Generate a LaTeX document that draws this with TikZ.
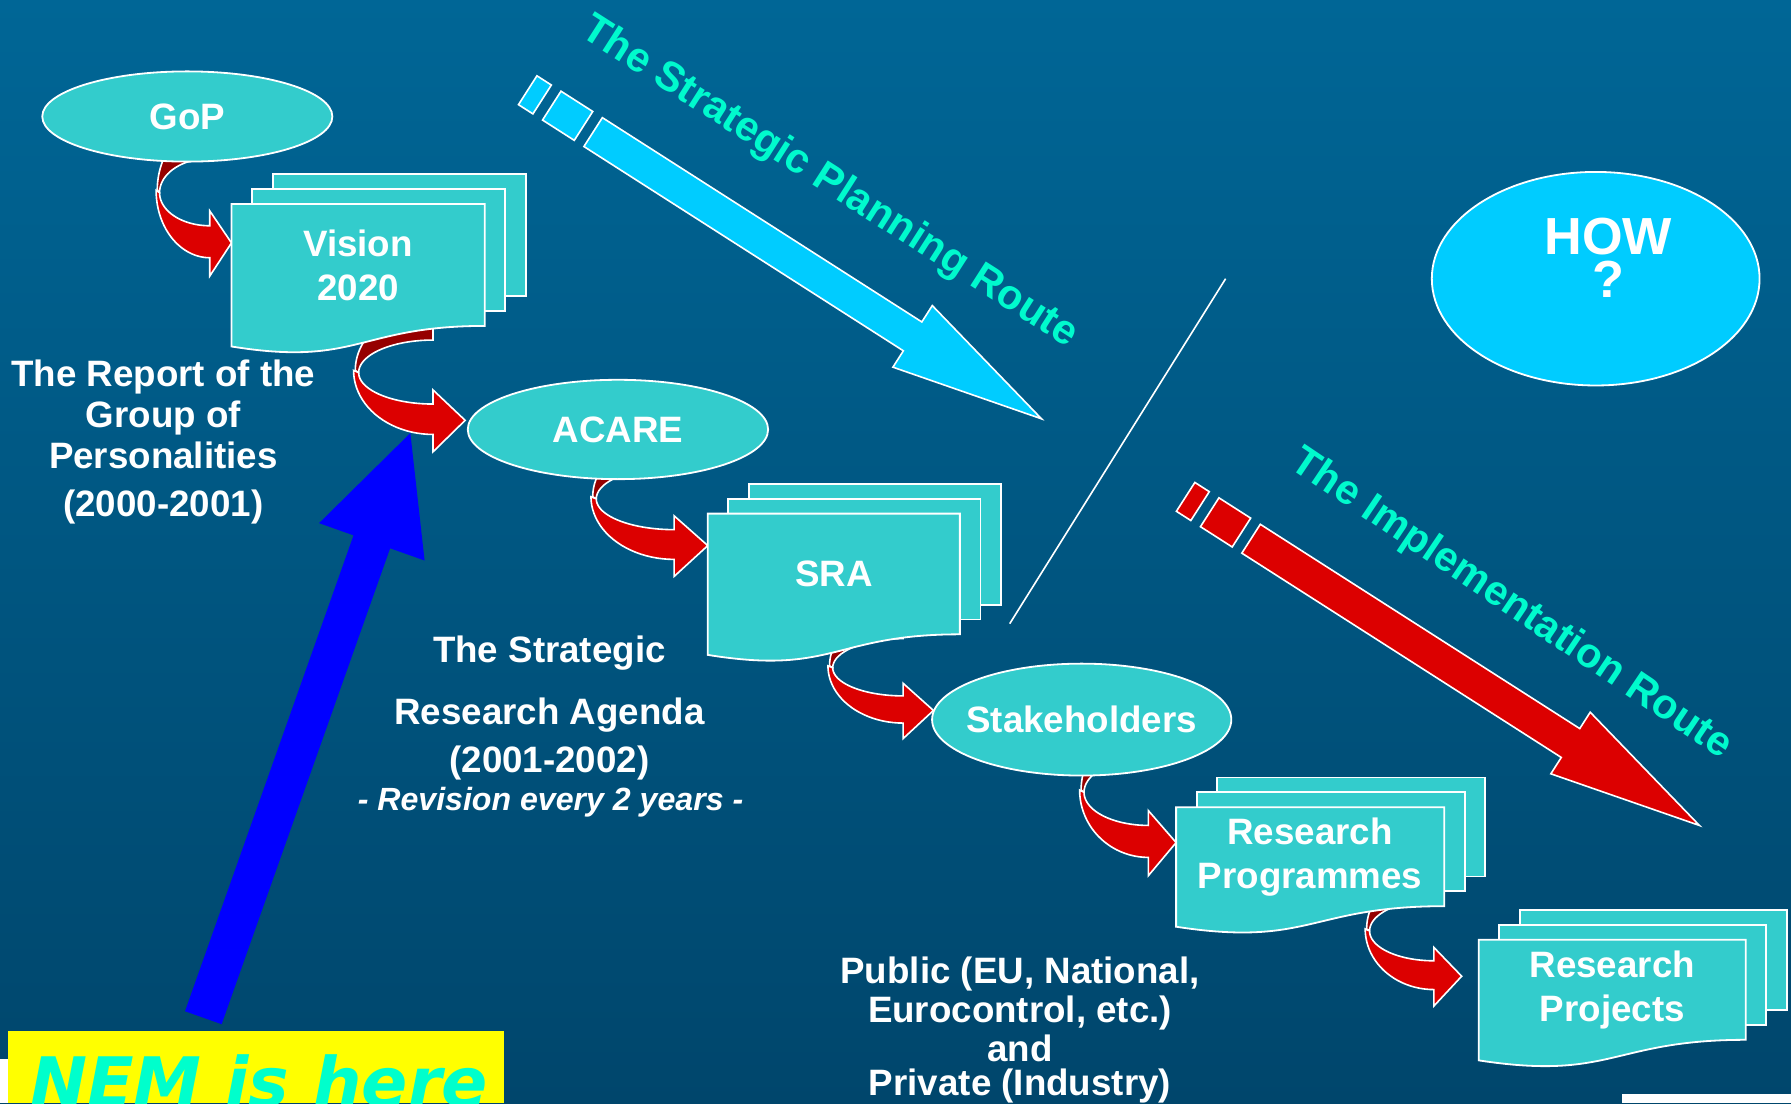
\documentclass[tikz,border=0pt]{standalone}
\usepackage{fontspec}
\setmainfont{Liberation Sans}
\newfontfamily\nemfont{DejaVu Sans}
\usetikzlibrary{shapes.geometric}

\definecolor{bgtop}{RGB}{0,102,150}
\definecolor{bgbottom}{RGB}{0,70,108}
\definecolor{docteal}{RGB}{51,204,204}
\definecolor{sky}{RGB}{0,204,255}
\definecolor{bendred}{RGB}{220,0,0}
\definecolor{bendshade}{RGB}{150,0,0}
\definecolor{routegreen}{RGB}{0,250,205}
\definecolor{nemgreen}{RGB}{0,255,204}
\definecolor{nemyellow}{RGB}{255,255,0}

\pgfdeclarelayer{bg}
\pgfdeclarelayer{arrows}
\pgfdeclarelayer{pages}
\pgfsetlayers{bg,arrows,pages,main}

\begin{document}
\begin{tikzpicture}[x=0.02cm, y=-0.02cm]
        \tikzset{
          oval/.style={ellipse, fill=docteal, draw=white, line width=0.9pt, inner sep=0pt},
          ovaltext/.style={text=white, font=\fontsize{18.3}{22}\selectfont\bfseries},
          doc/.style={rectangle, inner sep=0pt, text=white, align=center,
            font=\fontsize{18.3}{22}\selectfont\bfseries},
          page/.style={fill=docteal, draw=white, line width=0.9pt},
          caption/.style={text=white, align=center},
          route/.style={text=routegreen, font=\fontsize{20.7}{24}\selectfont\bfseries},
          bendfront/.style={fill=bendred, draw=white, line width=0.8pt},
          bendback/.style={fill=bendshade, draw=white, line width=0.8pt},
          block/.style={draw=white, line width=0.8pt},
          pics/bend/.style 2 args={code={
            \begin{scope}[xscale=#1, yscale=#2]
              \filldraw[bendback] (-19,-86) -- ({-19+46*cos(150)},-86)
                -- plot[domain=150:180, samples=12] ({-19+46*cos(\x)},{-46-58*sin(\x)})
                -- plot[domain=180:90, samples=20] ({-19+44*cos(\x)},{-44-30*sin(\x)}) -- cycle;
              \filldraw[bendfront] plot[domain=180:270, samples=24] ({-19+47*cos(\x)},{-46-59*sin(\x)})
                -- (-19,29) -- (0,0) -- (-19,-28) -- (-19,-15)
                -- plot[domain=270:180, samples=24] ({-19+44*cos(\x)},{-44-29*sin(\x)}) -- cycle;
            \end{scope}
          }},
          pics/pages/.style={code={
            \begin{pgfonlayer}{pages}
              \filldraw[page] ([shift={(36,-26)}]#1.north west) rectangle ([shift={(36,-26)}]#1.south east);
              \filldraw[page] ([shift={(18,-13)}]#1.north west) rectangle ([shift={(18,-13)}]#1.south east);
              \filldraw[page] (#1.north west) -- (#1.north east) -- (#1.south east)
                .. controls (#1.south) and ([shift={(0,36)}]#1.south) .. ([shift={(0,18)}]#1.south west) -- cycle;
            \end{pgfonlayer}
          }},
        }
        \begin{pgfonlayer}{bg}
          \fill[top color=bgtop, bottom color=bgbottom] (0,0) rectangle (1568,966);
        \end{pgfonlayer}
        \useasboundingbox (0,0) rectangle (1568,966);

        % the two routes
        \begin{pgfonlayer}{arrows}
          \begin{scope}[shift={(462,79)}, rotate=-32.6]
            \filldraw[block, fill=sky] (0,-15) rectangle (15,15);
            \filldraw[block, fill=sky] (25,-15) rectangle (58,15);
            \filldraw[block, fill=sky] (68,-15) -- (400,-15) -- (400,-32) -- (534,0)
              -- (400,32) -- (400,15) -- (68,15) -- cycle;
          \end{scope}
          \begin{scope}[shift={(1038,435)}, rotate=-32.6]
            \filldraw[block, fill=bendred] (0,-15) rectangle (15,15);
            \filldraw[block, fill=bendred] (25,-15) rectangle (58,15);
            \filldraw[block, fill=bendred] (68,-15) -- (400,-15) -- (400,-32) -- (534,0)
              -- (400,32) -- (400,15) -- (68,15) -- cycle;
          \end{scope}
          \begin{scope}[shift={(178,891)}, rotate=70.5]
            \fill[blue] (0,-17) -- (442,-17) -- (442,-49) -- (543,0)
              -- (442,49) -- (442,17) -- (0,17) -- cycle;
          \end{scope}
        \end{pgfonlayer}
        \node[route, rotate=-32.6] (stratroute) at (726,160) {The Strategic Planning Route};
        \node[route, rotate=-34] (implroute) at (1323,529) {The Implementation Route};
        \draw[white, line width=0.8pt] (1073,244) -- (884,546);

        \node[oval, fill=sky, minimum width=5.74cm, minimum height=3.74cm] (how) at (1397,244) {};
        \node[text=white, align=center, font=\fontsize{26}{21.5}\selectfont\bfseries] (howtext)
          at (1408,226) {HOW\\?};

        % the chain
        \node[oval, minimum width=5.08cm, minimum height=1.58cm, label={[ovaltext]center:GoP}] (gop) at (164,102) {};
        \node[doc, minimum width=4.42cm, minimum height=2.12cm] (vision) at (313.5,232) {Vision\\2020};
        \node[oval, minimum width=5.26cm, minimum height=1.74cm, label={[ovaltext]center:ACARE}] (acare) at (541,376) {};
        \node[doc, minimum width=4.40cm, minimum height=2.10cm] (sra) at (730,502.5) {SRA};
        \node[oval, minimum width=5.24cm, minimum height=1.96cm, label={[ovaltext]center:Stakeholders}] (stake) at (947,630) {};
        \node[doc, minimum width=4.68cm, minimum height=1.72cm] (rp) at (1147,750) {Research\\Programmes};
        \node[doc, minimum width=4.66cm, minimum height=1.74cm] (rproj) at (1411.5,866.5) {Research\\Projects};
        \pic {pages=vision};
        \pic {pages=sra};
        \pic {pages=rp};
        \pic {pages=rproj};

        \begin{pgfonlayer}{arrows}
          \pic at ([shift={(0,34)}]vision.north west) {bend={1}{1}};
          \pic at ([shift={(-1.5,-8)}]acare.west) {bend={1.48}{0.95}};
          \pic at ([shift={(0,28)}]sra.north west) {bend={1.55}{0.93}};
          \pic at ([shift={(2,-8)}]stake.west) {bend={1.4}{0.85}};
          \pic at ([shift={(0,31)}]rp.north west) {bend={1.28}{1}};
          \pic at ([shift={(-15,32)}]rproj.north west) {bend={1.28}{0.9}};
        \end{pgfonlayer}

        % captions
        \node[caption, font=\fontsize{18.3}{20.4}\selectfont\bfseries] (report) at (143,387)
          {The Report of the\\Group of\\Personalities\\[3.4pt](2000-2001)};
        \node[caption, font=\fontsize{18.3}{21}\selectfont\bfseries] (agenda) at (481,620)
          {The Strategic\\[10pt]Research Agenda\\[3pt](2001-2002)};
        \node[caption, font=\fontsize{16}{19}\selectfont\bfseries\itshape] (revision) at (482,702)
          {- Revision every 2 years -};
        \node[caption, font=\fontsize{18.3}{19.3}\selectfont\bfseries] (public) at (893,902)
          {Public (EU, National,\\Eurocontrol, etc.)\\and\\[-2pt]Private (Industry)};

        \fill[nemyellow] (7,903) rectangle (441,966);
        \node[anchor=base west, inner sep=0pt, text=nemgreen,
          font=\nemfont\fontsize{34}{40}\selectfont\bfseries\itshape] (nem) at (26,969) {NEM is here};
        \fill[white] (0,927) rectangle (7,966);
        \fill[white] (1420,958) rectangle (1568,966);
\end{tikzpicture}
\end{document}
